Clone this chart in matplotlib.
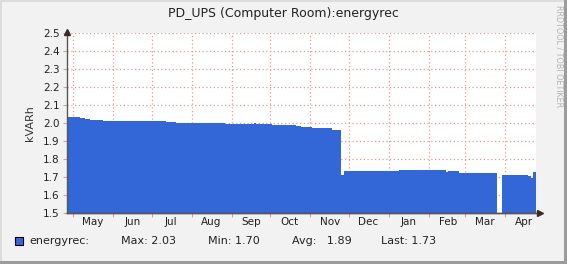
import numpy as np
import pandas as pd
import matplotlib.pyplot as plt
import matplotlib.dates as mdates
from matplotlib.patches import Rectangle

# step start dates and values (NaN = no data)
dates = ['2022-04-26', '2022-05-06', '2022-05-10', '2022-05-14', '2022-05-24',
         '2022-06-30', '2022-07-12', '2022-07-20', '2022-07-26', '2022-08-27',
         '2022-09-18', '2022-09-20', '2022-10-02', '2022-10-21', '2022-10-25',
         '2022-11-02', '2022-11-18', '2022-11-25', '2022-11-27', '2023-01-09',
         '2023-02-02', '2023-02-14', '2023-02-16', '2023-02-24', '2023-03-12',
         '2023-03-26', '2023-03-30', '2023-04-19', '2023-04-21', '2023-04-23']
values = [2.035, 2.030, 2.022, 2.018, 2.015,
          2.011, 2.008, 2.004, 2.001, 1.995,
          1.999, 1.997, 1.990, 1.985, 1.980,
          1.974, 1.963, 1.713, 1.737, 1.741,
          1.739, 1.730, 1.735, 1.726, 1.722,
          np.nan, 1.711, 1.707, 1.697, 1.728]
end_date = '2023-04-25'

y_ticks = [1.5, 1.6, 1.7, 1.8, 1.9, 2.0, 2.1, 2.2, 2.3, 2.4, 2.5]
title = 'PD_UPS (Computer Room):energyrec'
legend_items = ['Max: 2.03', 'Min: 1.70', 'Avg:   1.89', 'Last: 1.73']
legend_x = [121, 208, 292, 381]

W, H = 567, 264
bg = '#f2f2f2'
blue = '#3366d6'
gridc = '#e49a9a'

fig = plt.figure(figsize=(W / 100, H / 100), dpi=100, facecolor=bg)
ax = fig.add_axes([66.7 / W, 1 - 213.3 / H, (536 - 66.7) / W, 180 / H])
ax.set_facecolor('white')

edges = mdates.date2num(pd.to_datetime(dates + [end_date]))
ax.stairs(values, edges, baseline=1.5, fill=True, color=blue, lw=0, zorder=2)

ax.set_xlim(edges[0], edges[-1])
ax.set_ylim(1.5, 2.5)
ax.set_yticks(y_ticks)
ax.set_yticklabels(['%.1f' % v for v in y_ticks])

ax.xaxis.set_major_locator(mdates.MonthLocator())
ax.xaxis.set_major_formatter(plt.NullFormatter())
ax.xaxis.set_minor_locator(mdates.MonthLocator(bymonthday=16))
ax.xaxis.set_minor_formatter(mdates.DateFormatter('%b'))

ax.set_axisbelow(True)
ax.grid(which='major', ls=(0, (1, 2)), color=gridc, lw=0.9, zorder=1)
ax.tick_params(which='major', length=3, color=gridc, width=0.8, labelsize=7.5,
               labelcolor='#222222', pad=2)
ax.tick_params(axis='x', which='minor', length=0, labelsize=7.5,
               labelcolor='#222222', pad=3)

for s in ['top', 'right']:
    ax.spines[s].set_visible(False)
for s in ['left', 'bottom']:
    ax.spines[s].set_color('#555555')
    ax.spines[s].set_linewidth(1)
    ax.spines[s].set_zorder(5)

# axis arrows
ax.plot([0, 1.009], [0, 0], color='#555555', lw=1, transform=ax.transAxes, clip_on=False, zorder=6)
ax.plot([1.009], [0], marker='>', ms=5, color='#3a2a2a', transform=ax.transAxes, clip_on=False, zorder=6)
ax.plot([0], [1.01], marker='^', ms=5, color='#3a2a2a', transform=ax.transAxes, clip_on=False, zorder=6)

ax.set_ylabel('kVARh', fontsize=8, color='#333333', labelpad=6)

fig.text(0.5, 1 - 14 / H, title, ha='center', va='center', fontsize=9, color='#222222')
fig.text(559 / W, 1 - 5 / H, 'RRDTOOL / TOBI OETIKER', rotation=270, ha='center', va='top',
         fontsize=5.8, color='#b4b4b4')

# legend row
fig.patches.append(Rectangle((15 / W, 1 - 245 / H), 8 / W, 8 / H, transform=fig.transFigure,
                             facecolor=blue, edgecolor='black', lw=0.8))
fig.text(29 / W, 1 - 241 / H, 'energyrec:', ha='left', va='center', fontsize=8, color='#222222')
for x, t in zip(legend_x, legend_items):
    fig.text(x / W, 1 - 241 / H, t, ha='left', va='center', fontsize=8, color='#222222')

# canvas border shading
fig.patches.append(Rectangle((0, 0), 2 / W, 1, transform=fig.transFigure, color='#dcdcdc', lw=0))
fig.patches.append(Rectangle((0, 1 - 2 / H), 1, 2 / H, transform=fig.transFigure, color='#dcdcdc', lw=0))
fig.patches.append(Rectangle((1 - 3 / W, 0), 3 / W, 1, transform=fig.transFigure, color='#9c9c9c', lw=0))
fig.patches.append(Rectangle((0, 0), 1, 3 / H, transform=fig.transFigure, color='#9c9c9c', lw=0))

fig.savefig('out.png', dpi=100, facecolor=bg)
